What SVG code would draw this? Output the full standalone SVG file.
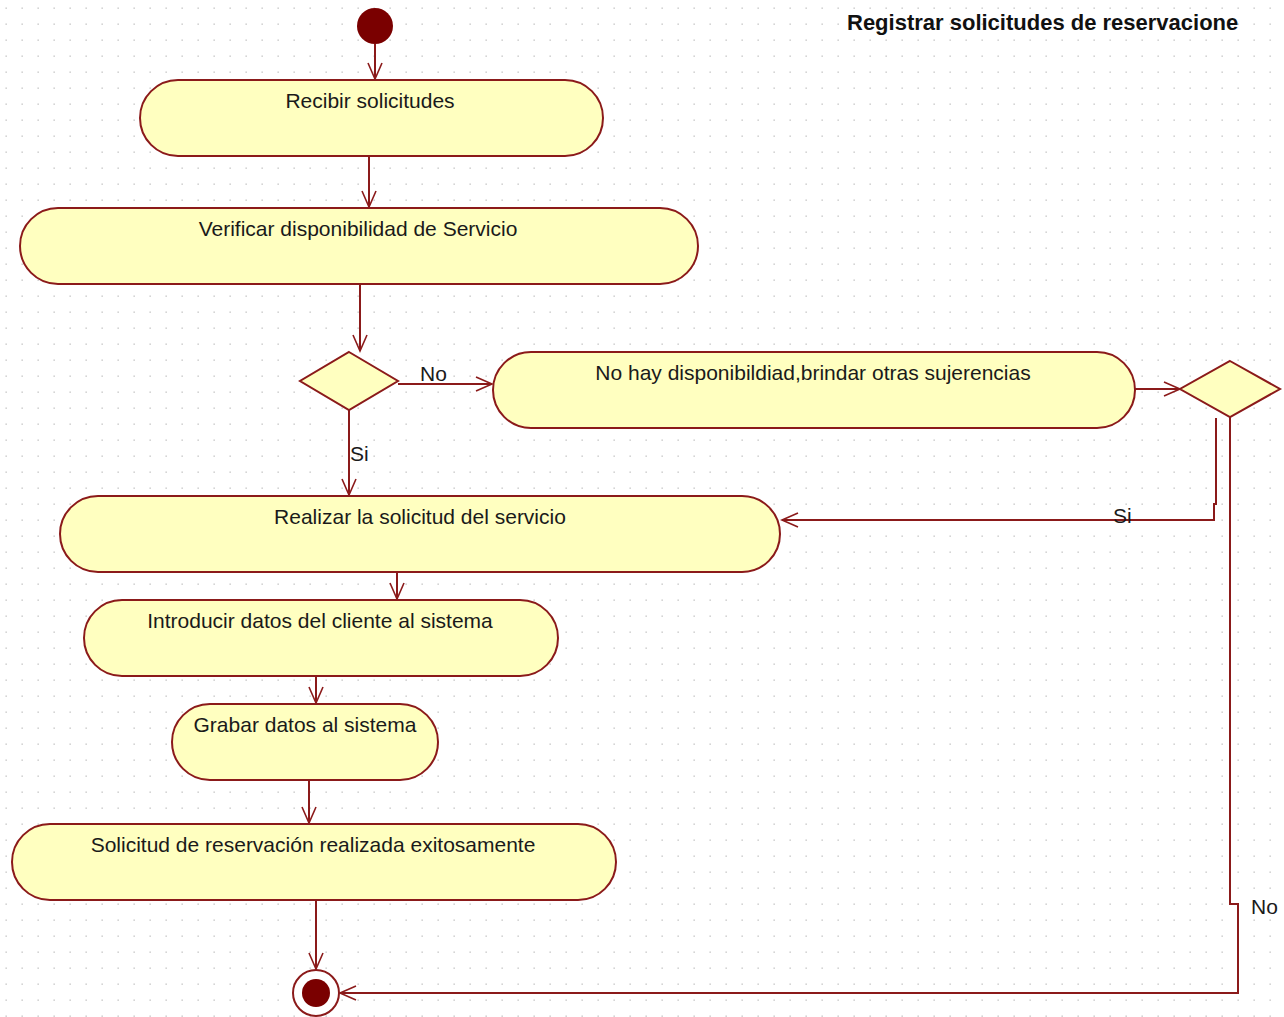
<svg xmlns="http://www.w3.org/2000/svg" width="1284" height="1017" viewBox="0 0 1284 1017">
<defs>
<pattern id="grid" x="0" y="0" width="16" height="16" patternUnits="userSpaceOnUse">
<rect x="5.5" y="7.5" width="1.3" height="1.3" fill="#bdbdbd"/>
</pattern>
<marker id="arr" viewBox="0 0 20 20" refX="18" refY="10" markerWidth="20" markerHeight="20" markerUnits="userSpaceOnUse" orient="auto">
<path d="M2,3 L18,10 L2,17 M18,10 L2,10" fill="none" stroke="#8b1a1a" stroke-width="1.6"/>
</marker>
<style>
.act{fill:#ffffc0;stroke:#8b1a1a;stroke-width:2}
.lbl{font-family:"Liberation Sans",Arial,sans-serif;font-size:21px;fill:#1a1a1a;text-anchor:middle}
.cl{font-family:"Liberation Sans",Arial,sans-serif;font-size:21px;fill:#1a1a1a}
.con{fill:none;stroke:#8b1a1a;stroke-width:2}
</style>
</defs>
<rect width="1284" height="1017" fill="#ffffff"/>
<rect width="1284" height="1017" fill="url(#grid)"/>
<text x="847" y="30" font-family="'Liberation Sans',Arial,sans-serif" font-size="22" font-weight="bold" fill="#111">Registrar solicitudes de reservacione</text>

<g id="connectors">
<path class="con" d="M375,44 V79" marker-end="url(#arr)"/>
<path class="con" d="M369,156 V207" marker-end="url(#arr)"/>
<path class="con" d="M360,284 V351" marker-end="url(#arr)"/>
<path class="con" d="M398,384 H492" marker-end="url(#arr)"/>
<text class="cl" x="420" y="381">No</text>
<path class="con" d="M349,410 V495" marker-end="url(#arr)"/>
<text class="cl" x="350" y="461">Si</text>
<path class="con" d="M1135,389 H1180" marker-end="url(#arr)"/>
<path class="con" d="M1216,418 V504 H1214 V520 H782" marker-end="url(#arr)"/>
<text class="cl" x="1113" y="523">Si</text>
<path class="con" d="M1230,417 V904 H1238 V993 H340" marker-end="url(#arr)"/>
<text class="cl" x="1251" y="914">No</text>
<path class="con" d="M397,572 V599" marker-end="url(#arr)"/>
<path class="con" d="M316,676 V703" marker-end="url(#arr)"/>
<path class="con" d="M309,780 V823" marker-end="url(#arr)"/>
<path class="con" d="M316,900 V969" marker-end="url(#arr)"/>
</g>

<g id="start"><circle cx="375" cy="26" r="18" fill="#7a0000"/></g>

<g id="recibir">
<rect class="act" x="140" y="80" width="463" height="76" rx="38"/>
<text class="lbl" x="370" y="108">Recibir solicitudes</text>
</g>
<g id="verificar">
<rect class="act" x="20" y="208" width="678" height="76" rx="38"/>
<text class="lbl" x="358" y="236">Verificar disponibilidad de Servicio</text>
</g>
<g id="decision1">
<polygon class="act" points="349,352 398,381 349,410 300,381"/>
</g>
<g id="nohay">
<rect class="act" x="493" y="352" width="642" height="76" rx="38"/>
<text class="lbl" x="813" y="380">No hay disponibildiad,brindar otras sujerencias</text>
</g>
<g id="decision2">
<polygon class="act" points="1230,361 1280,389 1230,417 1180,389"/>
</g>
<g id="realizar">
<rect class="act" x="60" y="496" width="720" height="76" rx="38"/>
<text class="lbl" x="420" y="524">Realizar la solicitud del servicio</text>
</g>
<g id="introducir">
<rect class="act" x="84" y="600" width="474" height="76" rx="38"/>
<text class="lbl" x="320" y="628">Introducir datos del cliente al sistema</text>
</g>
<g id="grabar">
<rect class="act" x="172" y="704" width="266" height="76" rx="38"/>
<text class="lbl" x="305" y="732">Grabar datos al sistema</text>
</g>
<g id="solicitud">
<rect class="act" x="12" y="824" width="604" height="76" rx="38"/>
<text class="lbl" x="313" y="852">Solicitud de reservación realizada exitosamente</text>
</g>
<g id="end">
<circle cx="316" cy="993" r="23" fill="#ffffff" stroke="#8b1a1a" stroke-width="2"/>
<circle cx="316" cy="993" r="14" fill="#7a0000"/>
</g>
</svg>
